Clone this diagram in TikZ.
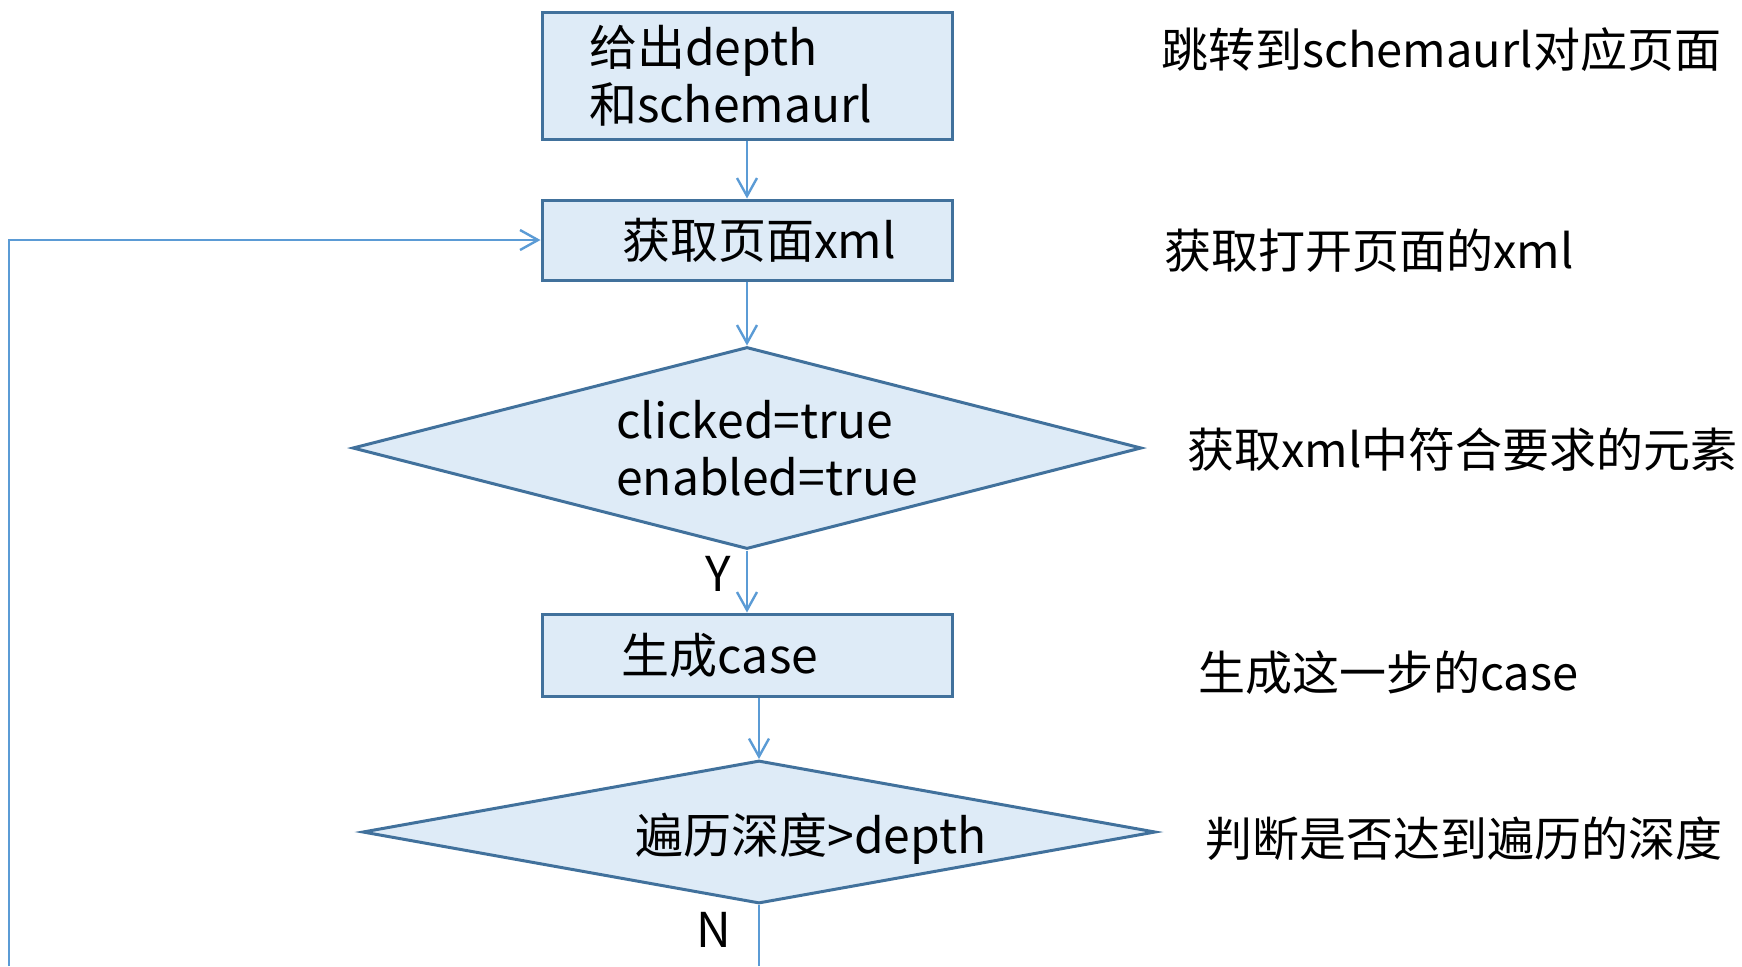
\documentclass[tikz,border=0pt]{standalone}
\usepackage{fontspec}
\setmainfont{Noto Sans CJK SC}
\usetikzlibrary{shapes.geometric,arrows.meta}
\definecolor{boxfill}{RGB}{222,235,247}
\definecolor{boxline}{RGB}{65,113,156}
\definecolor{flowblue}{RGB}{91,155,213}

\begin{document}
\begin{tikzpicture}[x=0.5pt, y=-0.5pt, node distance=100pt,
    box/.style={rectangle, draw=boxline, fill=boxfill, line width=1.5pt, minimum width=205pt, inner sep=2pt, font=\fontsize{24}{28.5}\selectfont},
    decision/.style={diamond, aspect=3.9, draw=boxline, fill=boxfill, line width=1.5pt, inner sep=2pt, font=\fontsize{24}{28.5}\selectfont},
    note/.style={anchor=west, inner sep=0pt, font=\fontsize{23.5}{28}\selectfont},
    flow/.style={draw=flowblue, line width=1.2pt, >={Straight Barb[length=9pt,width=10pt]}}]
    \useasboundingbox (0,0) rectangle (1742,966);

    % Flow
    \node (give) [box, minimum height=63.5pt, align=left, text width=158pt, inner xsep=23.5pt] at (747,75.5) {给出depth\\和schemaurl};
    \node (fetch) [box, minimum height=40pt, below of=give, yshift=17.75pt] {\hspace{12pt}获取页面xml};
    \node (filter) [decision, minimum width=394.5pt, minimum height=101pt, align=left, below of=fetch, yshift=-4pt]
        {\hspace*{20pt}clicked=true\\\hspace*{20pt}enabled=true};
    \node (gen) [box, minimum height=41pt, below of=filter, yshift=-3.5pt] {生成case\hspace{27pt}\mbox{}};
    \node (depthchk) [decision, minimum width=396.5pt, minimum height=71.5pt, below of=gen, yshift=11.5pt, xshift=6pt,
        label={[font=\fontsize{24}{28.5}\selectfont, xshift=26pt, yshift=-3.5pt]center:遍历深度>depth}] {};

    % Labels
    \node (yes) [font=\fontsize{24}{28.5}\selectfont] at (718,574) {Y};
    \node (no) [font=\fontsize{24}{28.5}\selectfont] at (714,930) {N};

    % Notes
    \node (note1) [note] at (1161,50) {跳转到schemaurl对应页面};
    \node (note2) [note] at (1164,251) {获取打开页面的xml};
    \node (note3) [note] at (1187,450) {获取xml中符合要求的元素};
    \node (note4) [note] at (1198,673) {生成这一步的case};
    \node (note5) [note] at (1205,839) {判断是否达到遍历的深度};

    % Arrows
    \coordinate (nend) at (759,966);
    \coordinate (loopend) at (9,966);
    \draw[flow, ->] (give) -- (fetch);
    \draw[flow, ->] (fetch) -- (filter);
    \draw[flow, ->] (filter) -- (gen);
    \draw[flow, ->] (gen.south -| depthchk.north) -- (depthchk.north);
    \draw[flow] (depthchk.south) -- (nend);
    \draw[flow, ->] (loopend) |- (fetch.west);
\end{tikzpicture}
\end{document}
